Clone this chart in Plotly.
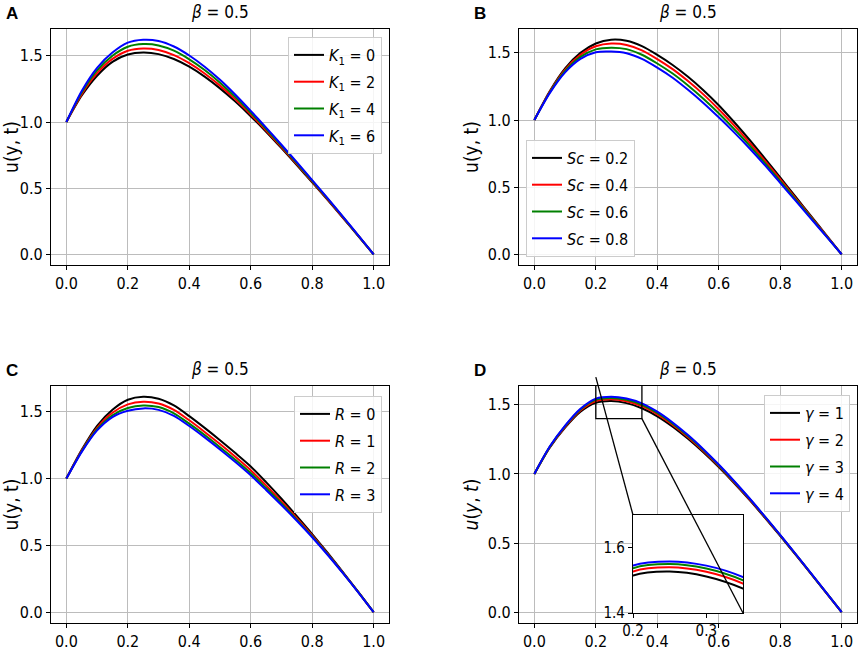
import plotly.graph_objects as go

# y coordinate across the channel
y_pos = [0.0, 0.05, 0.1, 0.15, 0.2, 0.25, 0.3, 0.35, 0.4, 0.45, 0.5,
         0.55, 0.6, 0.65, 0.7, 0.75, 0.8, 0.85, 0.9, 0.95, 1.0]

# (A) effect of K1
k1_levels = [0, 2, 4, 6]
u_k1 = [
    [1.0, 1.20, 1.35, 1.455, 1.51, 1.525, 1.513, 1.476, 1.418, 1.343, 1.254,
     1.154, 1.044, 0.926, 0.802, 0.674, 0.543, 0.411, 0.275, 0.138, 0.0],
    [1.0, 1.211, 1.369, 1.477, 1.539, 1.556, 1.545, 1.506, 1.445, 1.367, 1.275,
     1.171, 1.057, 0.936, 0.81, 0.681, 0.549, 0.416, 0.278, 0.14, 0.0],
    [1.0, 1.223, 1.39, 1.501, 1.569, 1.589, 1.579, 1.539, 1.474, 1.393, 1.297,
     1.188, 1.07, 0.947, 0.819, 0.689, 0.555, 0.42, 0.282, 0.141, 0.0],
    [1.0, 1.235, 1.41, 1.525, 1.60, 1.622, 1.613, 1.571, 1.503, 1.418, 1.319,
     1.206, 1.084, 0.958, 0.828, 0.696, 0.561, 0.425, 0.285, 0.143, 0.0],
]

# (B) effect of Sc
sc_levels = ["0.2", "0.4", "0.6", "0.8"]
u_sc = [
    [1.0, 1.215, 1.385, 1.50, 1.57, 1.598, 1.59, 1.55, 1.485, 1.41, 1.322,
     1.222, 1.11, 0.985, 0.853, 0.714, 0.572, 0.429, 0.286, 0.143, 0.0],
    [1.0, 1.21, 1.375, 1.485, 1.549, 1.569, 1.559, 1.519, 1.454, 1.379, 1.29,
     1.191, 1.08, 0.96, 0.832, 0.697, 0.559, 0.419, 0.279, 0.14, 0.0],
    [1.0, 1.205, 1.365, 1.47, 1.526, 1.539, 1.528, 1.486, 1.421, 1.346, 1.257,
     1.158, 1.05, 0.933, 0.811, 0.68, 0.545, 0.409, 0.273, 0.136, 0.0],
    [1.0, 1.20, 1.355, 1.455, 1.505, 1.51, 1.497, 1.455, 1.39, 1.315, 1.225,
     1.127, 1.02, 0.908, 0.79, 0.664, 0.532, 0.399, 0.266, 0.133, 0.0],
]

# (C) effect of R
r_levels = [0, 1, 2, 3]
u_r = [
    [1.0, 1.215, 1.395, 1.515, 1.59, 1.612, 1.597, 1.547, 1.467, 1.379, 1.287,
     1.191, 1.091, 0.973, 0.849, 0.719, 0.585, 0.445, 0.30, 0.152, 0.0],
    [1.0, 1.209, 1.38, 1.492, 1.555, 1.575, 1.562, 1.514, 1.436, 1.349, 1.258,
     1.163, 1.063, 0.949, 0.829, 0.704, 0.575, 0.439, 0.297, 0.151, 0.0],
    [1.0, 1.204, 1.369, 1.474, 1.528, 1.547, 1.535, 1.488, 1.411, 1.326, 1.235,
     1.141, 1.041, 0.929, 0.814, 0.693, 0.567, 0.434, 0.294, 0.15, 0.0],
    [1.0, 1.20, 1.36, 1.46, 1.507, 1.525, 1.514, 1.469, 1.393, 1.308, 1.218,
     1.124, 1.025, 0.915, 0.802, 0.684, 0.561, 0.43, 0.292, 0.149, 0.0],
]

# (D) effect of gamma
gamma_levels = [1, 2, 3, 4]
u_gamma = [
    [1.0, 1.19, 1.335, 1.45, 1.515, 1.527, 1.512, 1.475, 1.417, 1.342, 1.254,
     1.156, 1.049, 0.934, 0.812, 0.684, 0.552, 0.417, 0.279, 0.14, 0.0],
    [1.0, 1.193, 1.341, 1.459, 1.527, 1.54, 1.526, 1.49, 1.431, 1.355, 1.266,
     1.166, 1.057, 0.94, 0.817, 0.688, 0.555, 0.419, 0.28, 0.14, 0.0],
    [1.0, 1.196, 1.346, 1.466, 1.537, 1.55, 1.536, 1.50, 1.441, 1.364, 1.274,
     1.173, 1.063, 0.945, 0.821, 0.691, 0.557, 0.421, 0.281, 0.141, 0.0],
    [1.0, 1.198, 1.35, 1.472, 1.545, 1.558, 1.545, 1.51, 1.45, 1.372, 1.281,
     1.179, 1.068, 0.949, 0.824, 0.693, 0.559, 0.422, 0.282, 0.141, 0.0],
]

x_ticks = [0.0, 0.2, 0.4, 0.6, 0.8, 1.0]
y_ticks = [0.0, 0.5, 1.0, 1.5]
inset_x_ticks = [0.2, 0.3]
inset_y_ticks = [1.4, 1.6]
zoom_x = [0.2, 0.35]
zoom_y = [1.4, 1.7]

colors = ["black", "red", "green", "blue"]
FONT = "DejaVu Sans Condensed, DejaVu Sans, sans-serif"
W, H = 858, 650

# pixel boxes of the four panels and of the inset (left, right, top, bottom)
boxes = {
    "A": (51, 389, 29, 265),
    "B": (519, 857, 29, 265),
    "C": (51, 389, 386, 623),
    "D": (519, 857, 386, 623),
    "inset": (633, 743, 515, 613),
}


def dom(box):
    l, r, t, b = box
    return [l / W, r / W], [1 - b / H, 1 - t / H]


def yrange(curves):
    lo = min(min(c) for c in curves)
    hi = max(max(c) for c in curves)
    pad = 0.05 * (hi - lo)
    return [lo - pad, hi + pad]


panels = [
    ("A", "", u_k1, [f"<i>K</i><sub>1</sub> = {v}" for v in k1_levels], "legend",
     "u(y, t)"),
    ("B", "2", u_sc, [f"<i>Sc</i> = {v}" for v in sc_levels], "legend2",
     "u(y, t)"),
    ("C", "3", u_r, [f"<i>R</i> = {v}" for v in r_levels], "legend3",
     "u(y, t)"),
    ("D", "4", u_gamma, [f"<i>γ</i> = {v}" for v in gamma_levels], "legend4",
     "<i>u</i>(<i>y</i>, <i>t</i>)"),
]

fig = go.Figure()
layout = {}
annotations = []


def axis_style(**kw):
    d = dict(showline=True, linecolor="black", linewidth=1.3, mirror=True,
             ticks="outside", ticklen=4, tickcolor="black", tickwidth=1.2,
             showgrid=True, gridcolor="#bcbcbc", gridwidth=1, zeroline=False,
             automargin=False,
             tickfont=dict(size=16, color="black", family=FONT))
    d.update(kw)
    return d


for letter, sfx, curves, names, leg, ytitle in panels:
    xd, yd = dom(boxes[letter])
    for i, (c, name, col) in enumerate(zip(curves, names, colors)):
        fig.add_trace(go.Scatter(
            x=y_pos, y=c, mode="lines", name=name, legend=leg,
            legendgroup=f"{letter}{i}",
            line=dict(color=col, width=2, shape="spline", smoothing=0.8),
            xaxis="x" + sfx, yaxis="y" + sfx,
        ))
    layout["xaxis" + sfx] = axis_style(
        domain=xd, range=[-0.05, 1.05], tickvals=x_ticks, tickformat=".1f",
        anchor="y" + sfx)
    layout["yaxis" + sfx] = axis_style(
        domain=yd, range=yrange(curves), tickvals=y_ticks, tickformat=".1f",
        anchor="x" + sfx,
        title=dict(text=ytitle, font=dict(size=19, family=FONT, color="black"),
                   standoff=4))
    l, r, t, b = boxes[letter]
    annotations.append(dict(
        text="<i>β</i> = 0.5", xref="paper", yref="paper",
        x=(l + r) / 2 / W, y=1 - (t - 17) / H, xanchor="center", yanchor="middle",
        showarrow=False, font=dict(size=17, family=FONT, color="black")))
    annotations.append(dict(
        text=f"<b>{letter}</b>", xref="paper", yref="paper",
        x=(l - 47) / W, y=1 - (t - 16) / H, xanchor="left", yanchor="middle",
        showarrow=False,
        font=dict(size=17, family="Liberation Sans, Arial", color="black")))

# inset of panel D
ixd, iyd = dom(boxes["inset"])
for c, col in zip(u_gamma, colors):
    fig.add_trace(go.Scatter(
        x=y_pos, y=c, mode="lines", showlegend=False,
        line=dict(color=col, width=2, shape="spline", smoothing=0.8),
        xaxis="x5", yaxis="y5",
    ))
layout["xaxis5"] = axis_style(
    domain=ixd, range=zoom_x, tickvals=inset_x_ticks, tickformat=".1f",
    anchor="y5", showgrid=False, tickfont=dict(size=15, family=FONT, color="black"))
layout["yaxis5"] = axis_style(
    domain=iyd, range=zoom_y, tickvals=inset_y_ticks, tickformat=".1f",
    anchor="x5", showgrid=False, tickfont=dict(size=15, family=FONT, color="black"))

# zoom rectangle and connector lines
dxd, dyd = dom(boxes["D"])
d_yr = yrange(u_gamma)
d_xr = [-0.05, 1.05]


def px(v, d, r):
    return d[0] + (v - r[0]) / (r[1] - r[0]) * (d[1] - d[0])


shapes = [
    dict(type="rect", xref="x4", yref="y4", x0=zoom_x[0], x1=zoom_x[1],
         y0=zoom_y[0], y1=zoom_y[1], line=dict(color="black", width=1.3),
         layer="above"),
    dict(type="line", xref="paper", yref="paper",
         x0=px(zoom_x[0], dxd, d_xr), y0=px(zoom_y[1], dyd, d_yr),
         x1=ixd[0], y1=iyd[1], line=dict(color="black", width=1.3), layer="above"),
    dict(type="line", xref="paper", yref="paper",
         x0=px(zoom_x[1], dxd, d_xr), y0=px(zoom_y[0], dyd, d_yr),
         x1=ixd[1], y1=iyd[0], line=dict(color="black", width=1.3), layer="above"),
]

leg_style = dict(font=dict(size=16, family=FONT, color="black"),
                 bgcolor="rgba(255,255,255,0.85)", bordercolor="#cccccc",
                 borderwidth=1, xref="paper", yref="paper", itemwidth=30,
                 tracegroupgap=3)
layout["legend"] = dict(leg_style, x=382 / W, y=1 - 37 / H, xanchor="right", yanchor="top")
layout["legend2"] = dict(leg_style, x=526 / W, y=1 - 257 / H, xanchor="left", yanchor="bottom")
layout["legend3"] = dict(leg_style, x=382 / W, y=1 - 396 / H, xanchor="right", yanchor="top")
layout["legend4"] = dict(leg_style, x=850 / W, y=1 - 395 / H, xanchor="right", yanchor="top")

fig.update_layout(
    **layout,
    annotations=annotations,
    shapes=shapes,
    width=W, height=H,
    margin=dict(l=0, r=0, t=0, b=0),
    paper_bgcolor="white", plot_bgcolor="white",
    font=dict(family=FONT, color="black"),
)

# the page body has a default 8px margin; drop it so the figure fills the window
fig.write_html("out.html", config={"displayModeBar": False},
               post_script="document.body.style.margin = '0';")
